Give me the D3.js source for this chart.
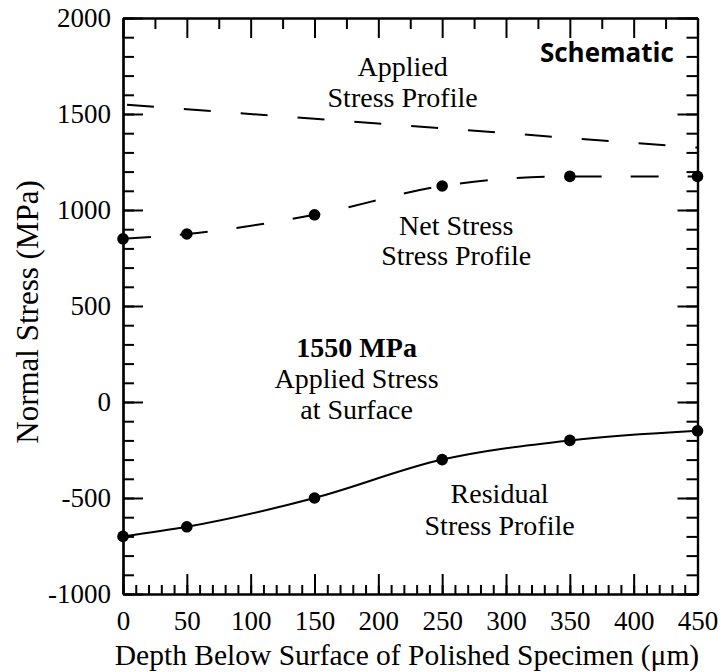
<!DOCTYPE html>
<html>
<head>
<meta charset="utf-8">
<script src="https://cdn.jsdelivr.net/npm/d3@7"></script>
<style>
  body { margin: 0; background: #fff; }
  svg text { font-family: "Liberation Serif", "Times New Roman", serif; fill: #000; }
</style>
</head>
<body>
<svg id="chart" width="721" height="672"></svg>
<script>
// depths (um) and stresses (MPa)
var depths = [0, 50, 150, 250, 350, 450];
var netStress = [850, 875, 975, 1125, 1175, 1175];
var residualStress = [-700, -650, -500, -300, -200, -150];
var appliedStress = [1550, 1525, 1475, 1425, 1375, 1325];

var xMajorTicks = [0, 50, 100, 150, 200, 250, 300, 350, 400, 450];
var yMajorTicks = [-1000, -500, 0, 500, 1000, 1500, 2000];

var margin = {left: 123, top: 18, right: 23.5, bottom: 78};
var width = 721 - margin.left - margin.right;
var height = 672 - margin.top - margin.bottom;

var svg = d3.select("#chart");
var g = svg.append("g").attr("transform", "translate(" + margin.left + "," + margin.top + ")");

var x = d3.scaleLinear().domain([0, 450]).range([0, width]);
var y = d3.scaleLinear().domain([-1000, 2000]).range([height, 0]);

var xMinor = d3.range(0, 451, 10);
var xTopMinor = d3.range(25, 450, 50);
var yMinor = d3.range(-1000, 2001, 100);

// plain hyphen for negatives, like the original
var fmt = function(d) { return String(d); };

function styleAxis(sel) {
    sel.selectAll("path").attr("stroke", "#000").attr("stroke-width", 2.2);
    sel.selectAll("line").attr("stroke", "#000").attr("stroke-width", 2);
    sel.selectAll("text").style("font-size", "27px").attr("fill", "#000");
}

// bottom
g.append("g").attr("transform", "translate(0," + height + ")")
    .call(d3.axisBottom(x).tickValues(xMinor).tickSize(-9).tickSizeOuter(0).tickFormat(""))
    .call(styleAxis);
g.append("g").attr("transform", "translate(0," + height + ")")
    .call(d3.axisBottom(x).tickValues(xMajorTicks).tickSize(-20).tickSizeOuter(0).tickPadding(17).tickFormat(fmt))
    .call(styleAxis);

// top
g.append("g")
    .call(d3.axisTop(x).tickValues(xTopMinor).tickSize(-11).tickSizeOuter(0).tickFormat(""))
    .call(styleAxis);
g.append("g")
    .call(d3.axisTop(x).tickValues(xMajorTicks).tickSize(-20).tickSizeOuter(0).tickFormat(""))
    .call(styleAxis);

// left
g.append("g")
    .call(d3.axisLeft(y).tickValues(yMinor).tickSize(-11).tickSizeOuter(0).tickFormat(""))
    .call(styleAxis);
g.append("g")
    .call(d3.axisLeft(y).tickValues(yMajorTicks).tickSize(-20).tickSizeOuter(0).tickPadding(12).tickFormat(fmt))
    .call(styleAxis);

// right
g.append("g").attr("transform", "translate(" + width + ",0)")
    .call(d3.axisRight(y).tickValues(yMinor).tickSize(-11).tickSizeOuter(0).tickFormat(""))
    .call(styleAxis);
g.append("g").attr("transform", "translate(" + width + ",0)")
    .call(d3.axisRight(y).tickValues(yMajorTicks).tickSize(-20).tickSizeOuter(0).tickFormat(""))
    .call(styleAxis);

// curves
var line = d3.line()
    .x(function(d) { return x(d[0]); })
    .y(function(d) { return y(d[1]); })
    .curve(d3.curveMonotoneX);

var applied = d3.zip(depths, appliedStress);
var net = d3.zip(depths, netStress);
var residual = d3.zip(depths, residualStress);

g.append("path")
    .datum(applied)
    .attr("d", d3.line().x(function(d) { return x(d[0]); }).y(function(d) { return y(d[1]); }))
    .attr("fill", "none")
    .attr("stroke", "#000")
    .attr("stroke-width", 2)
    .attr("stroke-dasharray", "27,30")
    .attr("stroke-dashoffset", -4);

g.append("path")
    .datum(net)
    .attr("d", line)
    .attr("fill", "none")
    .attr("stroke", "#000")
    .attr("stroke-width", 2)
    .attr("stroke-dasharray", "28,29");

g.append("path")
    .datum(residual)
    .attr("d", line)
    .attr("fill", "none")
    .attr("stroke", "#000")
    .attr("stroke-width", 2);

g.selectAll("circle.net")
    .data(net)
    .enter()
    .append("circle")
    .attr("class", "net")
    .attr("cx", function(d) { return x(d[0]); })
    .attr("cy", function(d) { return y(d[1]); })
    .attr("r", 5.8)
    .attr("fill", "#000");

g.selectAll("circle.res")
    .data(residual)
    .enter()
    .append("circle")
    .attr("class", "res")
    .attr("cx", function(d) { return x(d[0]); })
    .attr("cy", function(d) { return y(d[1]); })
    .attr("r", 5.8)
    .attr("fill", "#000");

// annotations (placed in data units)
function note(lines, dx, dy, gap, bold) {
    lines.forEach(function(t, i) {
        g.append("text")
            .attr("x", x(dx))
            .attr("y", y(dy) + i * gap)
            .attr("text-anchor", "middle")
            .style("font-size", "28px")
            .style("font-weight", bold && i === 0 ? "bold" : "normal")
            .text(t);
    });
}
note(["Applied", "Stress Profile"], 219, 1698, 31);
note(["Net Stress", "Stress Profile"], 261, 870, 30);
note(["1550 MPa", "Applied Stress", "at Surface"], 183, 234, 31, true);
note(["Residual", "Stress Profile"], 295, -526, 32);

g.append("text")
    .attr("x", x(431.5))
    .attr("y", y(1771))
    .attr("text-anchor", "end")
    .style("font-family", "'Open Sans', sans-serif")
    .style("font-weight", "bold")
    .style("font-size", "26px")
    .text("Schematic");

// axis titles
svg.append("text")
    .attr("x", 407)
    .attr("y", 665)
    .attr("text-anchor", "middle")
    .style("font-size", "29.5px")
    .text("Depth Below Surface of Polished Specimen (\u03bcm)");

svg.append("text")
    .attr("transform", "translate(38," + 312 + ") rotate(-90)")
    .attr("text-anchor", "middle")
    .style("font-size", "31px")
    .text("Normal Stress (MPa)");
</script>
</body>
</html>
